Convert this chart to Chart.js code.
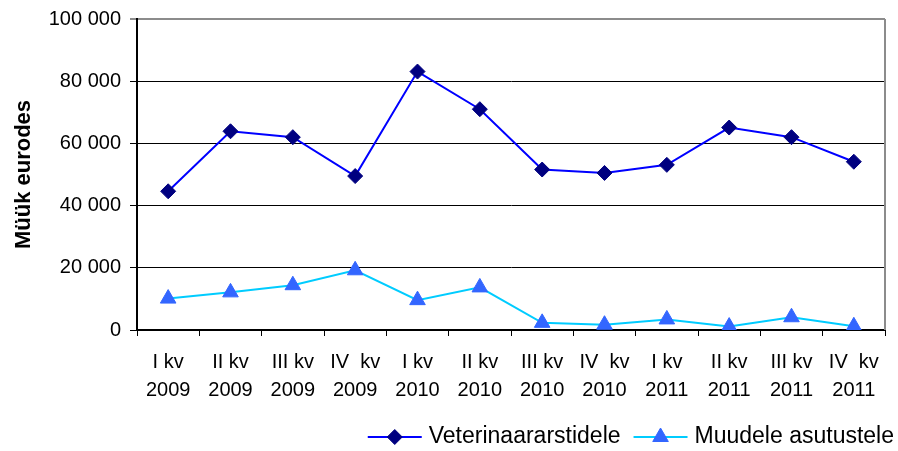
<!DOCTYPE html>
<html>
<head>
<meta charset="utf-8">
<script src="https://cdn.jsdelivr.net/npm/chart.js@4/dist/chart.umd.min.js"></script>
<style>
    html, body { margin: 0; padding: 0; background: #fff; }
    canvas { display: block; }
</style>
</head>
<body>
<canvas id="sales" width="898" height="451"></canvas>
<script>
var quarters = [
    ['I kv', '2009'], ['II kv', '2009'], ['III kv', '2009'], ['IV  kv', '2009'],
    ['I kv', '2010'], ['II kv', '2010'], ['III kv', '2010'], ['IV  kv', '2010'],
    ['I kv', '2011'], ['II kv', '2011'], ['III kv', '2011'], ['IV  kv', '2011']
];
var vetValues = [44600, 63900, 62000, 49500, 83100, 71000, 51600, 50500, 53100, 65100, 62000, 54100];
var otherValues = [10100, 12100, 14400, 19200, 9600, 13700, 2300, 1700, 3400, 1100, 4100, 1200];
var seriesNames = ['Veterinaararstidele', 'Muudele asutustele'];
var yTicks = [0, 20000, 40000, 60000, 80000, 100000];

(function () {
    'use strict';

    var FONT = '"Liberation Sans", Arial, sans-serif';

    function spaced(v) {
        return String(v).replace(/\B(?=(\d{3})+(?!\d))/g, ' ');
    }

    // right edge of the plot area (gray, like the original)
    var frame = {
        id: 'frame',
        beforeDatasetsDraw: function (chart) {
            var a = chart.chartArea, ctx = chart.ctx;
            ctx.save();
            ctx.strokeStyle = '#8c8c8c';
            ctx.lineWidth = 2;
            ctx.beginPath();
            ctx.moveTo(a.right, a.top);
            ctx.lineTo(a.right, a.bottom);
            ctx.stroke();
            ctx.restore();
        }
    };

    // legend with line + marker samples, bottom right
    var legendLine = {
        id: 'legendLine',
        afterDraw: function (chart) {
            var ctx = chart.ctx;
            var sets = chart.data.datasets;
            var sample = 54, gap = 7, between = 13, y = 437;
            ctx.save();
            ctx.font = '23px ' + FONT;
            var widths = sets.map(function (d) { return ctx.measureText(d.label).width; });
            var total = 0;
            widths.forEach(function (w, i) {
                total += sample + gap + w + (i < widths.length - 1 ? between : 0);
            });
            var x = 894 - total;
            sets.forEach(function (d, i) {
                ctx.strokeStyle = d.borderColor;
                ctx.lineWidth = d.borderWidth;
                ctx.beginPath();
                ctx.moveTo(x, y);
                ctx.lineTo(x + sample, y);
                ctx.stroke();
                ctx.fillStyle = d.pointBackgroundColor;
                ctx.strokeStyle = d.pointBorderColor;
                ctx.lineWidth = 1;
                Chart.helpers.drawPoint(ctx, {
                    pointStyle: d.pointStyle,
                    rotation: 0,
                    borderWidth: 1,
                    radius: d.pointRadius
                }, x + sample / 2, y);
                ctx.fillStyle = '#000';
                ctx.textBaseline = 'middle';
                ctx.textAlign = 'left';
                ctx.fillText(d.label, x + sample + gap, y);
                x += sample + gap + widths[i] + between;
            });
            ctx.restore();
        }
    };

    new Chart(document.getElementById('sales'), {
        type: 'line',
        data: {
            labels: quarters,
            datasets: [
                {
                    label: seriesNames[0],
                    data: vetValues,
                    borderColor: '#0000ff',
                    borderWidth: 2,
                    pointStyle: 'rectRot',
                    pointRadius: 7.5,
                    pointBackgroundColor: '#000080',
                    pointBorderColor: '#000080',
                    pointBorderWidth: 1,
                    tension: 0
                },
                {
                    label: seriesNames[1],
                    data: otherValues,
                    borderColor: '#00ccff',
                    borderWidth: 2,
                    pointStyle: 'triangle',
                    pointRadius: 9,
                    pointBackgroundColor: '#3366ff',
                    pointBorderColor: '#3366ff',
                    pointBorderWidth: 1,
                    tension: 0
                }
            ]
        },
        options: {
            responsive: false,
            animation: false,
            layout: {padding: {top: 18, right: 13, bottom: 0, left: 0}},
            plugins: {
                legend: {display: false},
                tooltip: {enabled: false}
            },
            scales: {
                x: {
                    offset: true,
                    grid: {
                        offset: true,
                        drawOnChartArea: false,
                        drawTicks: true,
                        tickLength: 6,
                        color: '#000'
                    },
                    border: {color: '#000', width: 2},
                    ticks: {
                        color: '#000',
                        padding: 12,
                        maxRotation: 0,
                        autoSkip: false,
                        font: {family: FONT, size: 20, lineHeight: 1.4}
                    },
                    afterFit: function (scale) { scale.height = 121; }
                },
                y: {
                    min: 0,
                    max: 100000,
                    afterBuildTicks: function (scale) {
                        scale.ticks = yTicks.map(function (v) { return {value: v}; });
                    },
                    grid: {
                        color: function (c) { return c.tick && c.tick.value === 100000 ? '#8c8c8c' : '#000'; },
                        lineWidth: function (c) { return c.tick && c.tick.value === 100000 ? 2 : 1; },
                        tickLength: 7
                    },
                    border: {color: '#000', width: 2},
                    ticks: {
                        color: '#000',
                        padding: 9,
                        font: {family: FONT, size: 20, lineHeight: 1},
                        callback: function (v) { return spaced(v); }
                    },
                    title: {
                        display: true,
                        text: 'Müük eurodes',
                        color: '#000',
                        padding: {top: 11, bottom: 0},
                        font: {family: FONT, size: 22, weight: 'bold'}
                    },
                    afterFit: function (scale) { scale.width = 137; }
                }
            }
        },
        plugins: [frame, legendLine]
    });
})();
</script>
</body>
</html>
